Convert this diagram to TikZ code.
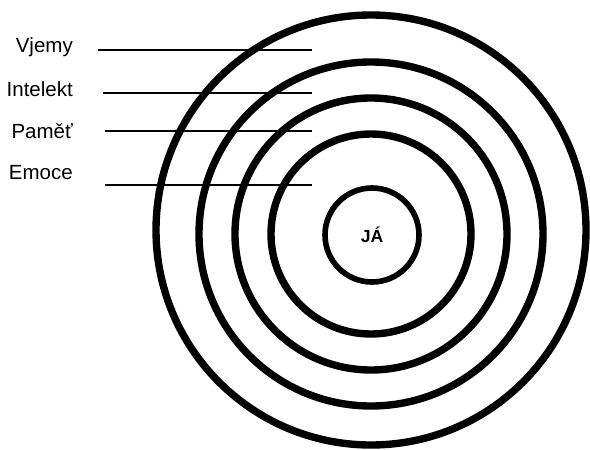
\documentclass[tikz,border=0pt]{standalone}
\usepackage{fontspec}
\setmainfont{Liberation Sans}
\usetikzlibrary{positioning}

\begin{document}
\begin{tikzpicture}[
    x=0.03cm, y=-0.03cm,
    label/.style={anchor=east, inner sep=0pt, font=\fontsize{17.5pt}{20pt}\selectfont},
    ring/.style={draw=black, line width=6.3pt},
    pointer/.style={draw=black, line width=1.2pt}
]
    \useasboundingbox (0,0) rectangle (590,449);

    % Centre
    \node[circle, draw, line width=4.8pt, minimum size=2.82cm, inner sep=0pt,
          font=\bfseries\fontsize{15pt}{17pt}\selectfont] (ja) at (372,235) {JÁ};

    % Rings
    \coordinate (mid) at (371,234);
    \foreach \r in {100,136,172}
        \draw[ring] (mid) circle[radius=\r*0.03cm];
    \draw[ring] (371,230) circle[radius=215*0.03cm];

    % Labels
    \node[label] (vjemy) at (73,47) {Vjemy};
    \node[label] (intelekt) at (73,89) {Intelekt};
    \node[label] (pamet) at (73,131) {Paměť};
    \node[label] (emoce) at (73,173) {Emoce};

    % Pointer lines
    \coordinate (v1) at (98,50);   \coordinate (v2) at (312,50);
    \coordinate (i1) at (103,93);  \coordinate (i2) at (312,93);
    \coordinate (p1) at (105,131); \coordinate (p2) at (312,131);
    \coordinate (e1) at (105,185); \coordinate (e2) at (312,185);
    \draw[pointer] (v1) -- (v2);
    \draw[pointer] (i1) -- (i2);
    \draw[pointer] (p1) -- (p2);
    \draw[pointer] (e1) -- (e2);
\end{tikzpicture}
\end{document}
